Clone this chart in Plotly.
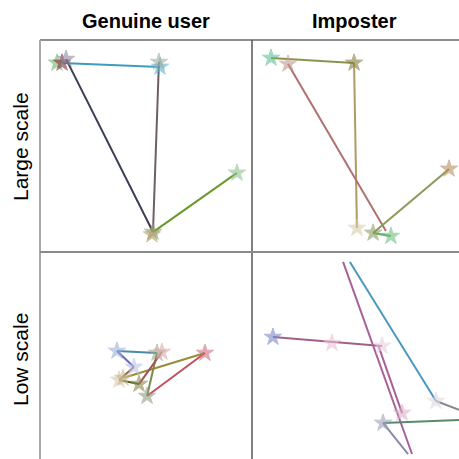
import plotly.graph_objects as go

# ---------------- data (local panel units 0-100) ----------------
col_titles = ["Genuine user", "Imposter"]
row_titles = ["Large scale", "Low scale"]

# Panel 1: Genuine user, large scale
p1_seg_x = [[10.4, 56.6], [12.3, 53.3], [56.1, 53.3], [53.3, 92.9]]
p1_seg_y = [[89.2, 87.3], [91.0, 9.4], [89.6, 9.4], [9.4, 37.3]]
p1_seg_c = ["#3c9cc0", "#3a3e56", "#6e5e66", "#6a9a2c"]
p1_star_x = [8.0, 10.4, 12.3, 56.6, 56.1, 53.3, 52.8, 92.9]
p1_star_y = [89.2, 89.2, 91.0, 87.3, 89.6, 9.4, 8.2, 37.3]
p1_star_c = ["#6cb86c", "#8a2a3c", "#8c8ca0", "#5ab4d8", "#9cae9c", "#8a9a6a", "#b4a070", "#90c090"]

# Panel 2: Imposter, large scale
p2_seg_x = [[9.2, 49.3], [49.3, 50.7], [17.4, 64.7], [58.5, 67.1], [58.5, 95.2]]
p2_seg_y = [[91.5, 89.2], [89.2, 11.3], [88.7, 9.9], [9.0, 7.5], [9.0, 39.2]]
p2_seg_c = ["#8a9450", "#b09a68", "#b07070", "#5aa85a", "#8a9a58"]
p2_star_x = [9.2, 17.4, 49.3, 50.7, 58.5, 67.1, 95.2]
p2_star_y = [91.5, 88.7, 89.2, 11.3, 9.0, 7.5, 39.2]
p2_star_c = ["#60c090", "#c09a90", "#8a8040", "#d8ccaa", "#8aa060", "#70c080", "#b89060"]

# Panel 3: Genuine user, low scale
p3_seg_x = [[36.3, 55.2], [36.3, 44.3], [44.3, 37.3], [37.3, 46.7], [39.2, 77.8], [77.8, 50.5], [50.5, 55.2], [46.7, 57.5]]
p3_seg_y = [[52.2, 51.2], [52.2, 44.4], [44.4, 38.2], [38.2, 36.2], [39.1, 51.2], [51.2, 30.4], [30.4, 51.2], [36.2, 51.7]]
p3_seg_c = ["#4a8aa8", "#6a6ab4", "#8a6a4a", "#5a5a20", "#9a8a3a", "#c05060", "#7a8a50", "#a05050"]
p3_star_x = [36.3, 55.2, 57.5, 44.3, 37.3, 39.2, 46.7, 50.5, 77.8]
p3_star_y = [52.2, 51.2, 51.7, 44.4, 38.2, 39.1, 36.2, 30.4, 51.2]
p3_star_c = ["#9ab0d8", "#9aa88a", "#e0a8b0", "#c0c0e8", "#d8c8a8", "#c8b890", "#8a8a50", "#90a080", "#d07080"]

# Panel 4: Imposter, low scale
p4_seg_x = [[10.1, 62.8], [44.0, 77.3], [60.9, 72.5], [47.3, 88.9], [88.9, 100.0], [63.3, 100.0], [63.3, 75.4]]
p4_seg_y = [[58.9, 54.6], [95.2, 2.4], [55.1, 22.2], [95.2, 28.0], [28.0, 23.7], [17.4, 18.8], [17.4, 2.4]]
p4_seg_c = ["#a0608a", "#a8609a", "#a8609a", "#4a98c0", "#888888", "#5a8a6a", "#8a8aa8"]
p4_star_x = [10.1, 38.6, 62.8, 72.5, 88.9, 63.3]
p4_star_y = [58.9, 56.0, 54.6, 22.2, 28.0, 17.4]
p4_star_c = ["#7a8ac8", "#e8c0d0", "#e8d0dc", "#e0b0c8", "#e0d8e0", "#98a0b8"]

panels = [
    (p1_seg_x, p1_seg_y, p1_seg_c, p1_star_x, p1_star_y, p1_star_c),
    (p2_seg_x, p2_seg_y, p2_seg_c, p2_star_x, p2_star_y, p2_star_c),
    (p3_seg_x, p3_seg_y, p3_seg_c, p3_star_x, p3_star_y, p3_star_c),
    (p4_seg_x, p4_seg_y, p4_seg_c, p4_star_x, p4_star_y, p4_star_c),
]

# ---------------- layout geometry (pixels) ----------------
W = H = 459
left, mid, top = 40, 252, 40

def px(x):
    return x / W

def py(y):
    return 1 - y / H

domains = [
    ([px(left), px(mid)], [py(mid), py(top)]),
    ([px(mid), 1.0], [py(mid), py(top)]),
    ([px(left), px(mid)], [0.0, py(mid)]),
    ([px(mid), 1.0], [0.0, py(mid)]),
]

fig = go.Figure()
layout = dict(
    width=W, height=H, margin=dict(l=0, r=0, t=0, b=0),
    paper_bgcolor="white", plot_bgcolor="white", showlegend=False,
)

for i, (sx, sy, sc, stx, sty, stc) in enumerate(panels):
    n = "" if i == 0 else str(i + 1)
    xa, ya = "x" + n, "y" + n
    for xs, ys, c in zip(sx, sy, sc):
        fig.add_trace(go.Scatter(x=xs, y=ys, mode="lines", xaxis=xa, yaxis=ya,
                                 line=dict(color=c, width=2), hoverinfo="skip"))
    fig.add_trace(go.Scatter(x=stx, y=sty, mode="markers", xaxis=xa, yaxis=ya,
                             marker=dict(symbol="star", size=13, color=stc, opacity=0.6,
                                         line=dict(width=1, color=stc)),
                             hoverinfo="skip"))
    axcommon = dict(range=[0, 100], showgrid=False, zeroline=False, showticklabels=False,
                    showline=False, ticks="", fixedrange=True)
    layout["xaxis" + n] = dict(axcommon, domain=domains[i][0], anchor=ya)
    layout["yaxis" + n] = dict(axcommon, domain=domains[i][1], anchor=xa)

shapes = [
    dict(type="line", xref="paper", yref="paper", x0=px(left), x1=1, y0=py(top), y1=py(top),
         line=dict(color="#6a6a6a", width=1.5)),
    dict(type="line", xref="paper", yref="paper", x0=px(left), x1=px(left), y0=0, y1=py(top),
         line=dict(color="#a8a8a8", width=2)),
    dict(type="line", xref="paper", yref="paper", x0=px(mid), x1=px(mid), y0=0, y1=py(top),
         line=dict(color="#555555", width=1.5)),
    dict(type="line", xref="paper", yref="paper", x0=px(left), x1=1, y0=py(mid), y1=py(mid),
         line=dict(color="#8a8a8a", width=2)),
]
layout["shapes"] = shapes

font_b = dict(family="Liberation Sans, Arial, sans-serif", size=20, color="black")
font_r = dict(family="Liberation Sans, Arial, sans-serif", size=21, color="black")
annotations = [
    dict(text="<b>" + col_titles[0] + "</b>", x=px(146), y=py(21), xref="paper", yref="paper",
         showarrow=False, font=font_b, xanchor="center", yanchor="middle"),
    dict(text="<b>" + col_titles[1] + "</b>", x=px(354), y=py(21), xref="paper", yref="paper",
         showarrow=False, font=font_b, xanchor="center", yanchor="middle"),
    dict(text=row_titles[0], x=px(20), y=py(147), xref="paper", yref="paper", textangle=-90,
         showarrow=False, font=font_r, xanchor="center", yanchor="middle"),
    dict(text=row_titles[1], x=px(20), y=py(360), xref="paper", yref="paper", textangle=-90,
         showarrow=False, font=font_r, xanchor="center", yanchor="middle"),
]
layout["annotations"] = annotations

fig.update_layout(**layout)
fig.write_html("out.html", config={"displayModeBar": False, "staticPlot": True},
               post_script="document.body.style.margin='0';document.body.style.overflow='hidden';")
